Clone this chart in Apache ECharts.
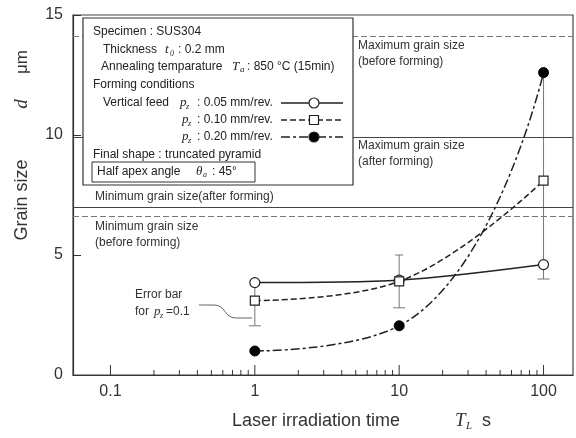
<!DOCTYPE html>
<html style="height: 100%">
<head>
<meta charset="utf-8">
<title>Grain size vs laser irradiation time</title>
<script src="https://cdn.jsdelivr.net/npm/echarts@6.0.0/dist/echarts.min.js"></script>
</head>
<body style="height: 100%; margin: 0; background: #fff">
<div id="main" style="width:576px;height:438px;"></div>
<script type="text/javascript">
// laser irradiation time T_L (s)
var times = [1, 10, 100];
// grain size d (um) for vertical feed pz
var feed005 = [3.85, 3.95, 4.6];
var feed010 = [3.1, 3.9, 8.1];
var feed020 = [1.0, 2.05, 12.6];
// error bar for pz = 0.10
var errLow010 = [2.05, 2.8, 4.0];
var errHigh010 = [3.9, 5.0, 12.45];
// reference grain sizes
var maxBefore = 14.1, maxAfter = 9.9, minAfter = 7.0, minBefore = 6.6;
// axes
var xMajorTicks = [0.1, 1, 10, 100];
var xMinorTicks = [0.2, 0.3, 0.4, 0.5, 0.6, 0.7, 0.8, 0.9,
                   2, 3, 4, 5, 6, 7, 8, 9,
                   20, 30, 40, 50, 60, 70, 80, 90];
var yTicks = [0, 5, 10, 15];

var FONT = '"Liberation Sans", Arial, sans-serif';
var SERIF = '"Liberation Serif", "DejaVu Serif", serif';
var INK = '#222';

function pairs(xs, ys) {
    return xs.map(function (x, i) { return [x, ys[i]]; });
}

// small text helper for the graphic layer
function txt(x, y, s, opt) {
    opt = opt || {};
    return {
        type: 'text', x: x, y: y, z: 101, silent: true,
        rotation: opt.rotation || 0,
        style: {
            text: s,
            font: (opt.italic ? 'italic ' : '') + (opt.size || 12) + 'px ' + (opt.serif ? SERIF : FONT),
            fill: opt.color || INK,
            textAlign: opt.align || 'left', align: opt.align || 'left',
            textVerticalAlign: 'middle', verticalAlign: 'middle'
        }
    };
}
function seg(x1, y1, x2, y2, dash, w, color) {
    return {
        type: 'line', z: 101, silent: true,
        shape: {x1: x1, y1: y1, x2: x2, y2: y2},
        style: {stroke: color || INK, lineWidth: w || 1.3, lineDash: dash || null}
    };
}
function mark(x, y, kind) {
    if (kind === 'rect') {
        return {type: 'rect', z: 102, silent: true, shape: {x: x - 4.5, y: y - 4.5, width: 9, height: 9},
            style: {fill: '#fff', stroke: INK, lineWidth: 1.2}};
    }
    return {type: 'circle', z: 102, silent: true, shape: {cx: x, cy: y, r: 5},
        style: {fill: kind === 'filled' ? '#000' : '#fff', stroke: INK, lineWidth: 1.2}};
}

var dash010 = [6, 3];
var dash020 = [9, 3, 3, 3];

var graphics = [
    // legend box
    {type: 'rect', z: 100, silent: true, shape: {x: 83, y: 18, width: 270, height: 167},
        style: {fill: '#fff', stroke: '#333', lineWidth: 1.2}},
    txt(93, 32, 'Specimen : SUS304'),
    txt(103, 50, 'Thickness'),
    txt(165, 50, 't', {italic: true, serif: true, size: 13}),
    txt(170, 54, '0', {italic: true, serif: true, size: 8}),
    txt(178, 50, ': 0.2 mm'),
    txt(101, 67, 'Annealing temparature'),
    txt(232, 67, 'T', {italic: true, serif: true, size: 13}),
    txt(240, 70, 'a', {italic: true, serif: true, size: 9}),
    txt(247, 67, ': 850 \u00b0C (15min)'),
    txt(93, 85, 'Forming conditions'),
    txt(103, 103, 'Vertical feed'),
    txt(93, 155, 'Final shape : truncated pyramid'),
    {type: 'rect', z: 100, silent: true, shape: {x: 92, y: 162, width: 163, height: 20},
        style: {fill: '#fff', stroke: '#333', lineWidth: 1}},
    txt(97, 172, 'Half apex angle'),
    txt(196, 172, '\u03b8', {italic: true, serif: true, size: 13}),
    txt(203, 175, 'a', {italic: true, serif: true, size: 8}),
    txt(212, 172, ': 45\u00b0'),
    // reference line notes
    txt(358, 46, 'Maximum grain size', {color: '#333'}),
    txt(358, 62, '(before forming)', {color: '#333'}),
    txt(358, 146, 'Maximum grain size', {color: '#333'}),
    txt(358, 162, '(after forming)', {color: '#333'}),
    txt(95, 197, 'Minimum grain size(after forming)', {color: '#333'}),
    txt(95, 227, 'Minimum grain size', {color: '#333'}),
    txt(95, 243, '(before forming)', {color: '#333'}),
    // error bar note
    txt(135, 295, 'Error bar', {color: '#333'}),
    txt(135, 312, 'for', {color: '#333'}),
    txt(154, 312, 'p', {italic: true, serif: true, size: 13, color: '#333'}),
    txt(160, 316, 'z', {italic: true, serif: true, size: 8, color: '#333'}),
    txt(166, 312, '=0.1', {color: '#333'}),
    seg(199, 305, 214, 305, null, 1, '#666'),
    {type: 'bezierCurve', z: 101, silent: true,
        shape: {x1: 214, y1: 305, cpx1: 226, cpy1: 305, cpx2: 224, cpy2: 318, x2: 236, y2: 318},
        style: {stroke: '#666', fill: null, lineWidth: 1}},
    seg(236, 318, 252, 318, null, 1, '#666'),
    // axis titles
    txt(22, 200, 'Grain size', {size: 18, rotation: Math.PI / 2, align: 'center', color: '#333'}),
    txt(22, 104, 'd', {size: 19, italic: true, serif: true, rotation: Math.PI / 2, align: 'center', color: '#333'}),
    txt(22, 62, '\u03bcm', {size: 17, rotation: Math.PI / 2, align: 'center', color: '#333'}),
    txt(232, 421, 'Laser irradiation time', {size: 18, color: '#333'}),
    txt(455, 421, 'T', {size: 19, italic: true, serif: true, color: '#333'}),
    txt(466, 426, 'L', {size: 11, italic: true, serif: true, color: '#333'}),
    txt(482, 421, 's', {size: 18, color: '#333'})
];

// legend rows: pz symbol, value text, line sample and marker
var legendRows = [
    {y: 103, px: 180, label: ': 0.05 mm/rev.', dash: null, kind: 'open'},
    {y: 120, px: 182, label: ': 0.10 mm/rev.', dash: dash010, kind: 'rect'},
    {y: 137, px: 182, label: ': 0.20 mm/rev.', dash: dash020, kind: 'filled'}
];
legendRows.forEach(function (r) {
    graphics.push(txt(r.px, r.y, 'p', {italic: true, serif: true, size: 13}));
    graphics.push(txt(r.px + 6, r.y + 4, 'z', {italic: true, serif: true, size: 8}));
    graphics.push(txt(197, r.y, r.label));
    graphics.push(seg(281, r.y, 343, r.y, r.dash));
    graphics.push(mark(314, r.y, r.kind));
});

var tickData = xMajorTicks.map(function (v) { return [v, 10]; })
    .concat(xMinorTicks.map(function (v) { return [v, 5]; }));
var errData = times.map(function (t, i) { return [t, errLow010[i], errHigh010[i]]; });

function refLine(v, dashed) {
    return {yAxis: v, lineStyle: {color: dashed ? '#777' : '#444', width: 1, type: dashed ? [6, 3] : 'solid'}};
}

var myChart = echarts.init(document.getElementById('main'), null, {renderer: 'canvas'});
var option = {
    animation: false,
    backgroundColor: '#fff',
    grid: {left: 73, top: 15, right: 0, bottom: 63, show: true, borderColor: '#444', borderWidth: 1.2},
    xAxis: {
        type: 'log', logBase: 10, min: 0.055, max: 160,
        axisLine: {lineStyle: {color: '#333', width: 1.2}},
        axisTick: {show: false},
        splitLine: {show: false},
        axisLabel: {
            fontSize: 16, fontFamily: FONT, color: '#333', margin: 9,
            formatter: function (v) {
                for (var i = 0; i < xMajorTicks.length; i++) {
                    if (Math.abs(v - xMajorTicks[i]) < 1e-9 * xMajorTicks[i] + 1e-12) return String(xMajorTicks[i]);
                }
                return '';
            }
        }
    },
    yAxis: {
        type: 'value', min: 0, max: 15, interval: 5,
        axisLine: {lineStyle: {color: '#333', width: 1.2}},
        axisTick: {inside: true, length: 8, lineStyle: {color: '#333'}},
        splitLine: {show: false},
        axisLabel: {fontSize: 16, fontFamily: FONT, color: '#333', margin: 10,
            formatter: function (v) { return yTicks.indexOf(v) >= 0 ? String(v) : ''; }}
    },
    graphic: {elements: graphics},
    series: [
        {
            // x-axis ticks (major and minor) placed through the log scale
            type: 'custom', silent: true, clip: false, z: 3,
            data: tickData,
            renderItem: function (params, api) {
                var p = api.coord([api.value(0), 0]);
                return {type: 'line', shape: {x1: p[0], y1: p[1], x2: p[0], y2: p[1] - api.value(1)},
                    style: {stroke: '#333', lineWidth: 1}};
            }
        },
        {
            type: 'custom', silent: true, z: 4,
            data: errData,
            renderItem: function (params, api) {
                var lo = api.coord([api.value(0), api.value(1)]);
                var hi = api.coord([api.value(0), api.value(2)]);
                var st = {stroke: '#777', lineWidth: 1};
                return {type: 'group', children: [
                    {type: 'line', shape: {x1: lo[0], y1: lo[1], x2: hi[0], y2: hi[1]}, style: st},
                    {type: 'line', shape: {x1: lo[0] - 6, y1: lo[1], x2: lo[0] + 6, y2: lo[1]}, style: st},
                    {type: 'line', shape: {x1: hi[0] - 4, y1: hi[1], x2: hi[0] + 4, y2: hi[1]}, style: st}
                ]};
            },
            markLine: {
                silent: true, symbol: 'none', label: {show: false},
                data: [refLine(maxBefore, true), refLine(maxAfter, false), refLine(minAfter, false), refLine(minBefore, true)]
            }
        },
        {
            name: '0.05', type: 'line', z: 6, data: pairs(times, feed005), smooth: 0.3,
            symbol: 'circle', symbolSize: 10,
            lineStyle: {color: INK, width: 1.5},
            itemStyle: {color: '#fff', borderColor: INK, borderWidth: 1.2}
        },
        {
            name: '0.10', type: 'line', z: 7, data: pairs(times, feed010), smooth: 0.4,
            symbol: 'rect', symbolSize: 9,
            lineStyle: {color: INK, width: 1.5, type: dash010},
            itemStyle: {color: '#fff', borderColor: INK, borderWidth: 1.2}
        },
        {
            name: '0.20', type: 'line', z: 8, data: pairs(times, feed020), smooth: 0.5,
            symbol: 'circle', symbolSize: 10,
            lineStyle: {color: INK, width: 1.5, type: dash020},
            itemStyle: {color: '#000', borderColor: '#000', borderWidth: 1}
        }
    ]
};
myChart.setOption(option);
</script>
</body>
</html>
